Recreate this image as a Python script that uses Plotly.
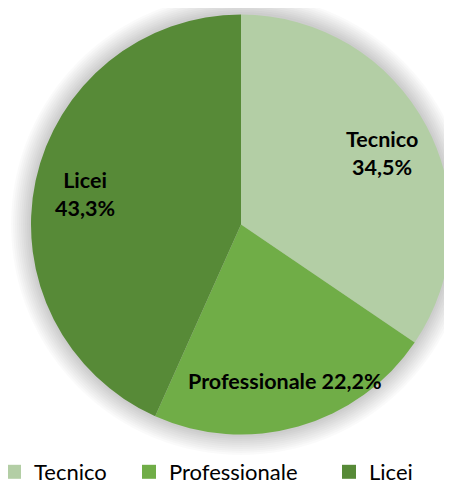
import math
import plotly.graph_objects as go

categories = ["Tecnico", "Professionale", "Licei"]
values = [34.5, 22.2, 43.3]
colors = ["#B3CEA5", "#70AD47", "#578A37"]
label_sep = ["<br>", " ", "<br>"]

# the page is drawn with an 8px body margin, so the figure is sized to fit the window
FIG_W, FIG_H = 444, 476
W, H = 420, 421
ML, MT = 23, 6

fig = go.Figure()
fig.add_trace(go.Pie(
    labels=categories, values=values, sort=False, direction="clockwise", rotation=0,
    marker=dict(colors=colors, line=dict(width=0)),
    textinfo="none", hoverinfo="label+percent",
    hole=0, showlegend=False,
))

# legend entries (one legend per entry so each can be positioned like the original)
legend_names = ["legend", "legend2", "legend3"]
legend_x_px = [-14, 121, 321]
for cat, col, lg in zip(categories, colors, legend_names):
    fig.add_trace(go.Scatter(x=[None], y=[None], mode="markers", name=cat,
                             marker=dict(symbol="square", size=14, color=col),
                             legend=lg, showlegend=True, hoverinfo="skip"))

# data labels placed along each slice's mid-angle
R = min(W, H) / 2
total = sum(values)
annotations = []
cum = 0
for cat, v, sep in zip(categories, values, label_sep):
    mid = (cum + v / 2) / total * 2 * math.pi
    cum += v
    r = 0.76 * R
    dx = r * math.sin(mid)
    dy = r * math.cos(mid)
    pct = f"{v / total * 100:.1f}".replace(".", ",") + "%"
    annotations.append(dict(
        x=0.5 + dx / W, y=0.5 + dy / H - 3 / H, xref="paper", yref="paper",
        text=f"<b>{cat}{sep}{pct}</b>", showarrow=False, align="center",
        font=dict(family="Lato", size=21.5, color="black"),
        xanchor="center", yanchor="middle"))

# soft shadow behind the pie
shapes = []
for i in range(10):
    pad = (2 + i * 2) / W
    shapes.append(dict(type="circle", xref="paper", yref="paper",
                       x0=-pad, x1=1 + pad, y0=-pad * W / H, y1=1 + pad * W / H,
                       fillcolor="rgba(0,0,0,0.018)", line=dict(width=0), layer="below"))

legend_common = dict(orientation="h", xref="paper", yref="paper",
                     y=(MT + H - 464) / H, xanchor="left", yanchor="middle",
                     font=dict(family="Lato", size=22, color="black"),
                     itemwidth=30, bgcolor="rgba(0,0,0,0)", borderwidth=0)
legends = {}
for lg, xp in zip(legend_names, legend_x_px):
    legends[lg] = dict(legend_common, x=(xp - ML) / W)

fig.update_layout(
    width=FIG_W, height=FIG_H,
    margin=dict(l=ML, r=FIG_W - ML - W, t=MT, b=FIG_H - MT - H, autoexpand=False),
    paper_bgcolor="white", plot_bgcolor="white",
    separators=",.",
    xaxis=dict(visible=False), yaxis=dict(visible=False),
    shapes=shapes, annotations=annotations,
    **legends,
)
fig.write_html("out.html")
